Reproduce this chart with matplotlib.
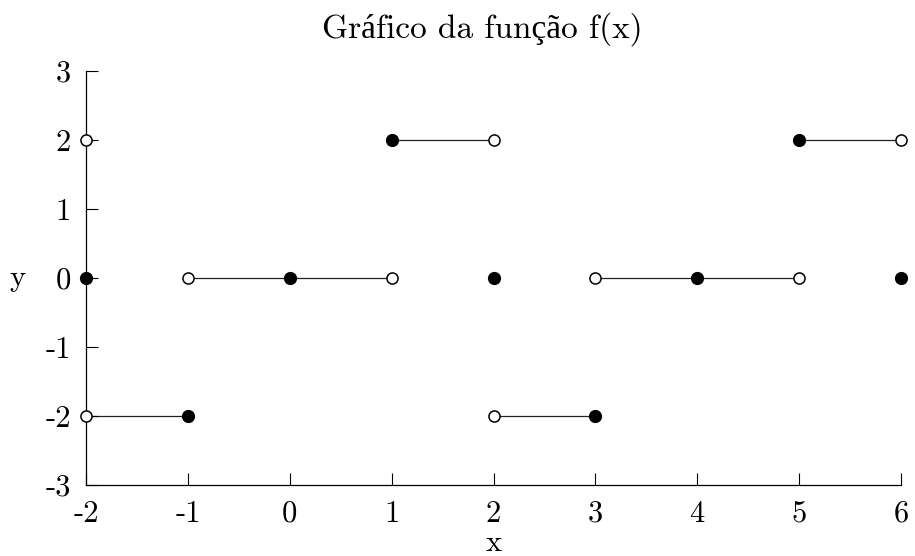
import matplotlib
matplotlib.use("Agg")
import matplotlib.pyplot as plt

# horizontal pieces of f: (x start, x end, y)
seg_x0 = [-2, -1, 1, 2, 3, 5]
seg_x1 = [-1, 1, 2, 3, 5, 6]
seg_y = [-2, 0, 2, -2, 0, 2]

# closed (filled) points
closed_x = [-1, 0, 1, 2, 3, 4, 5, 6, -2]
closed_y = [-2, 0, 2, 0, -2, 0, 2, 0, 0]

# open (hollow) points
open_x = [-2, -1, 1, 2, 2, 3, 5, 6, -2]
open_y = [-2, 0, 0, 2, -2, 0, 0, 2, 2]

xticks = [-2, -1, 0, 1, 2, 3, 4, 5, 6]
yticks = [-3, -2, -1, 0, 1, 2, 3]

plt.rcParams['font.family'] = ['cmr10', 'Liberation Serif']
plt.rcParams['axes.unicode_minus'] = False
plt.rcParams['axes.formatter.use_mathtext'] = False

fig = plt.figure(figsize=(9.15, 5.56), dpi=100)
ax = fig.add_axes([86 / 915, 1 - 485 / 556, (901 - 86) / 915, (485 - 71) / 556])

for a, b, y in zip(seg_x0, seg_x1, seg_y):
    ax.plot([a, b], [y, y], color='#222222', lw=0.9, clip_on=False, zorder=1)

ax.plot(closed_x, closed_y, 'o', ms=8.5, color='black', clip_on=False, zorder=3)
ax.plot(open_x, open_y, 'o', ms=8, mfc='white', mec='black', mew=1.1,
        clip_on=False, zorder=3)

ax.set_xlim(-2, 6)
ax.set_ylim(-3, 3)
ax.set_xticks(xticks)
ax.set_yticks(yticks)
ax.set_xticklabels([str(v) for v in xticks])
ax.set_yticklabels([str(v) for v in yticks])

for s in ['top', 'right']:
    ax.spines[s].set_visible(False)
for s in ['left', 'bottom']:
    ax.spines[s].set_linewidth(0.9)

ax.tick_params(direction='in', length=8.5, width=0.8, labelsize=22, pad=11)
ax.tick_params(axis='x', pad=11)

ax.set_title('Gráfico da função f(x)', fontsize=24, pad=24, x=0.486)
ax.set_xlabel('x', fontsize=22, labelpad=1)
ax.set_ylabel('y', fontsize=22, rotation=0, labelpad=20, va='center')

fig.savefig('out.png', dpi=100)
